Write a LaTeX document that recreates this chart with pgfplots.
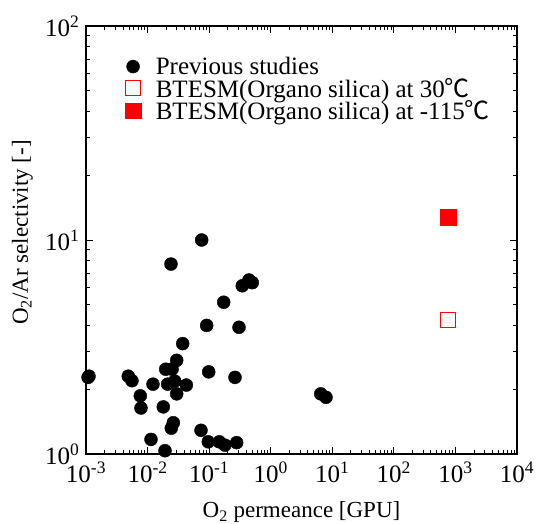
\documentclass[border=0pt]{standalone}
\usepackage{pgfplots}
\pgfplotsset{compat=1.18}
\usepackage{fontspec}
\setmainfont{Liberation Serif}
\newfontfamily\cjk{Noto Sans CJK JP}
\newcommand{\fs}{\fontsize{23}{27}\selectfont}
\newcommand{\fl}{\fontsize{25}{28}\selectfont}
\newcommand{\ft}{\fontsize{25}{29}\selectfont}
\begin{document}
\begin{tikzpicture}
\begin{axis}[
  scale only axis, width=431pt, height=428pt,
  xmode=log, ymode=log,
  xmin=1e-3, xmax=1e4, ymin=1, ymax=100,
  /pgf/number format/assume math mode=true,
  xtick={1e-3,1e-2,1e-1,1,10,100,1000,10000},
  xticklabels={10\textsuperscript{-3},10\textsuperscript{-2},10\textsuperscript{-1},10\textsuperscript{0},10\textsuperscript{1},10\textsuperscript{2},10\textsuperscript{3},10\textsuperscript{4}},
  ytick={1,10,100},
  yticklabels={10\textsuperscript{0},10\textsuperscript{1},10\textsuperscript{2}},
  tick align=inside,
  major tick length=7pt, minor tick length=4pt,
  axis line style={line width=1.2pt},
  every tick/.style={black, line width=0.9pt},
  tick label style={font=\ft},
  xticklabel style={anchor=base, yshift=-29pt},
  yticklabel style={xshift=-3pt},
  xlabel={O\textsubscript{2} permeance [GPU]},
  ylabel={O\textsubscript{2}/Ar selectivity [-]},
  label style={font=\fs},
  xlabel style={at={(axis description cs:0.5,-0.148)}, anchor=base},
  ylabel style={at={(axis description cs:-0.1346,0.5175)}, anchor=base},
  clip=false,
  legend style={font=\fl, draw=none, fill=none, at={(axis description cs:0.084,0.937)}, anchor=north west, row sep=-2pt,
    /tikz/every odd column/.append style={column sep=13pt}},
  legend cell align=left,
]
\addplot[only marks, mark=*, mark size=6.5pt, black] coordinates {
(0.0757,10.0) (0.0240,7.72) (0.3456,6.11) (0.4436,6.50) (0.5026,6.32)
(0.1724,5.12) (0.0912,3.99) (0.3055,3.91) (0.0372,3.28) (0.0297,2.74)
(0.0197,2.49) (0.0250,2.49) (0.00108,2.28) (0.00112,2.31) (0.00486,2.31)
(0.00558,2.20) (0.0984,2.42) (0.263,2.28) (0.01225,2.12) (0.0212,2.12)
(0.0276,2.19) (0.0426,2.10) (0.00762,1.87) (0.0297,1.91) (0.00782,1.64)
(0.0180,1.66) (0.0262,1.40) (0.0243,1.32) (0.01137,1.17) (0.0738,1.29)
(0.0192,1.036) (0.0969,1.14) (0.1462,1.14) (0.18,1.10) (0.280,1.13)
(6.49,1.91) (7.91,1.84)
};
\addlegendentry{Previous studies}
\addplot[only marks, mark=square, mark size=7.3pt, draw=red, mark options={draw=red, fill=white, line width=1pt}] coordinates {(750,4.23)};
\addlegendentry{BTESM(Organo silica) at 30{\cjk ℃}}
\addplot[only marks, mark=square*, mark size=7.7pt, red, mark options={draw=red, fill=red}] coordinates {(760,12.8)};
\addlegendentry{BTESM(Organo silica) at -115{\cjk ℃}}
\end{axis}
\pgfresetboundingbox
\path[use as bounding box] (-86pt,-70pt) rectangle (452pt,454pt);
\end{tikzpicture}
\end{document}
